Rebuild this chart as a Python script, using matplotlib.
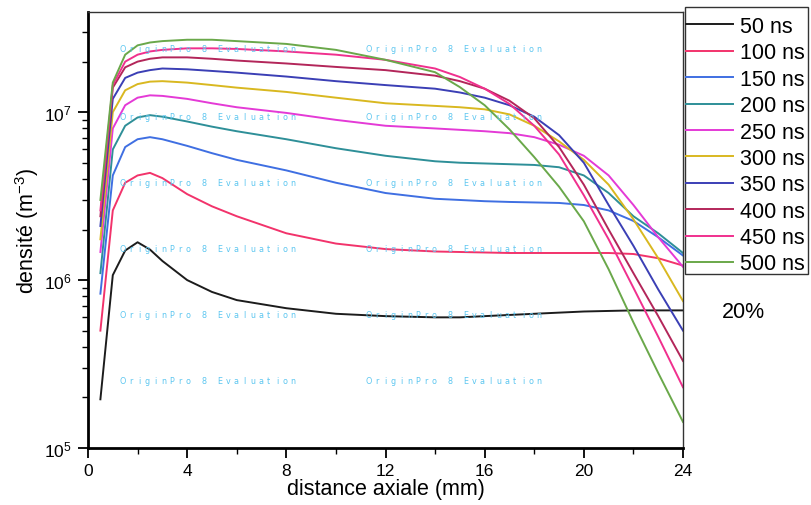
import matplotlib
matplotlib.use("Agg")
import matplotlib.pyplot as plt
from matplotlib.patches import Rectangle
from matplotlib.ticker import FixedLocator, LogLocator, NullFormatter

plt.rcParams['font.family'] = ['Liberation Sans', 'DejaVu Sans']
plt.rcParams['mathtext.fontset'] = 'custom'
plt.rcParams['mathtext.rm'] = 'Liberation Sans'
plt.rcParams['mathtext.it'] = 'Liberation Sans'

# axial positions (mm) where the density was sampled
distance = [0.5, 1.0, 1.5, 2.0, 2.5, 3.0, 4.0, 5.0, 6.0, 8.0, 10.0, 12.0,
            14.0, 15.0, 16.0, 17.0, 18.0, 19.0, 20.0, 21.0, 22.0, 23.0, 24.0]

# density (m^-3) for each delay
n_50 = [1.95e5, 1.07e6, 1.5e6, 1.68e6, 1.52e6, 1.3e6, 1.0e6, 8.5e5, 7.6e5, 6.8e5, 6.3e5, 6.1e5,
        6.0e5, 6.0e5, 6.1e5, 6.2e5, 6.3e5, 6.4e5, 6.5e5, 6.55e5, 6.6e5, 6.6e5, 6.6e5]
n_100 = [5.0e5, 2.6e6, 3.8e6, 4.2e6, 4.35e6, 4.05e6, 3.25e6, 2.75e6, 2.4e6, 1.9e6, 1.65e6, 1.53e6,
         1.48e6, 1.47e6, 1.46e6, 1.45e6, 1.45e6, 1.45e6, 1.45e6, 1.45e6, 1.43e6, 1.35e6, 1.22e6]
n_150 = [8.3e5, 4.2e6, 6.2e6, 6.9e6, 7.1e6, 6.9e6, 6.3e6, 5.7e6, 5.2e6, 4.5e6, 3.8e6, 3.3e6,
         3.05e6, 3.0e6, 2.95e6, 2.92e6, 2.9e6, 2.88e6, 2.8e6, 2.6e6, 2.25e6, 1.8e6, 1.4e6]
n_200 = [1.1e6, 6.0e6, 8.3e6, 9.3e6, 9.6e6, 9.4e6, 8.8e6, 8.2e6, 7.7e6, 6.9e6, 6.1e6, 5.5e6,
         5.1e6, 5.0e6, 4.95e6, 4.9e6, 4.85e6, 4.7e6, 4.2e6, 3.3e6, 2.4e6, 1.9e6, 1.45e6]
n_250 = [1.47e6, 8.0e6, 1.1e7, 1.22e7, 1.26e7, 1.25e7, 1.2e7, 1.13e7, 1.07e7, 9.9e6, 9.0e6, 8.3e6,
         8.0e6, 7.85e6, 7.7e6, 7.5e6, 7.1e6, 6.4e6, 5.5e6, 4.2e6, 2.8e6, 1.8e6, 1.2e6]
n_300 = [1.75e6, 1.0e7, 1.35e7, 1.47e7, 1.52e7, 1.53e7, 1.5e7, 1.45e7, 1.4e7, 1.32e7, 1.22e7, 1.13e7,
         1.09e7, 1.07e7, 1.04e7, 9.7e6, 8.3e6, 6.7e6, 5.2e6, 3.7e6, 2.3e6, 1.35e6, 7.5e5]
n_350 = [2.1e6, 1.2e7, 1.6e7, 1.72e7, 1.78e7, 1.82e7, 1.8e7, 1.76e7, 1.72e7, 1.63e7, 1.53e7, 1.45e7,
         1.38e7, 1.31e7, 1.22e7, 1.1e7, 9.4e6, 7.3e6, 5.0e6, 2.8e6, 1.6e6, 8.8e5, 5.0e5]
n_400 = [2.4e6, 1.4e7, 1.85e7, 2.0e7, 2.08e7, 2.12e7, 2.12e7, 2.08e7, 2.03e7, 1.95e7, 1.86e7, 1.78e7,
         1.65e7, 1.53e7, 1.38e7, 1.17e7, 9.2e6, 6.2e6, 3.7e6, 2.0e6, 1.1e6, 6.1e5, 3.3e5]
n_450 = [2.6e6, 1.45e7, 2.0e7, 2.2e7, 2.3e7, 2.35e7, 2.4e7, 2.4e7, 2.38e7, 2.3e7, 2.2e7, 2.05e7,
         1.82e7, 1.62e7, 1.38e7, 1.12e7, 8.3e6, 5.6e6, 3.2e6, 1.75e6, 9.0e5, 4.6e5, 2.3e5]
n_500 = [3.0e6, 1.5e7, 2.2e7, 2.5e7, 2.6e7, 2.65e7, 2.7e7, 2.7e7, 2.65e7, 2.55e7, 2.35e7, 2.05e7,
         1.73e7, 1.41e7, 1.1e7, 7.9e6, 5.4e6, 3.6e6, 2.24e6, 1.16e6, 5.6e5, 2.8e5, 1.43e5]

labels = ['50 ns', '100 ns', '150 ns', '200 ns', '250 ns',
          '300 ns', '350 ns', '400 ns', '450 ns', '500 ns']
series = [n_50, n_100, n_150, n_200, n_250, n_300, n_350, n_400, n_450, n_500]
colors = ['#1c1c1c', '#f2336b', '#3f6fe2', '#2e8f98', '#e43ad6',
          '#d9b820', '#3b3fb5', '#b3265a', '#f0308e', '#6aa84a']

x_ticks = [0, 4, 8, 12, 16, 20, 24]

fig = plt.figure(figsize=(8.11, 5.06), dpi=100)
ax = fig.add_axes([88 / 811, 57 / 506, 595 / 811, 436 / 506])

# evaluation watermark grid behind the curves, letters on a fixed pitch
mark = 'OriginPro 8 Evaluation'
for col in [123, 369]:
    for row in [50, 117, 183, 250, 316, 382]:
        for i, ch in enumerate(mark):
            fig.text((col + i * 8.1) / 811, 1 - row / 506, ch, fontsize=5.8,
                     color='#5cc6f0', ha='center', va='center',
                     family='DejaVu Sans', zorder=0)

for ys, lab, c in zip(series, labels, colors):
    ax.plot(distance, ys, color=c, lw=1.4, label=lab)

ax.set_yscale('log')
ax.set_xlim(0, 24)
ax.set_ylim(1e5, 3.95e7)
ax.patch.set_alpha(0)

ax.xaxis.set_major_locator(FixedLocator(x_ticks))
ax.xaxis.set_minor_locator(FixedLocator([2, 6, 10, 14, 18, 22]))
ax.yaxis.set_major_locator(LogLocator(base=10, numticks=10))
ax.yaxis.set_minor_locator(LogLocator(base=10, subs=range(2, 10), numticks=20))
ax.yaxis.set_minor_formatter(NullFormatter())

ax.tick_params(axis='both', which='major', direction='out', length=7, width=1.3,
               labelsize=12.5)
ax.tick_params(axis='x', which='major', pad=4)
ax.tick_params(axis='y', which='major', pad=5)
ax.tick_params(axis='both', which='minor', direction='out', length=4, width=1.0)
ax.tick_params(axis='x', which='both', top=False)
ax.tick_params(axis='y', which='both', right=False)

for side in ['left', 'bottom']:
    ax.spines[side].set_linewidth(2.0)
for side in ['top', 'right']:
    ax.spines[side].set_linewidth(1.0)
    ax.spines[side].set_color('#333333')

ax.set_xlabel('distance axiale (mm)', fontsize=15.5, labelpad=0)
ax.set_ylabel('densité (m$^{\\mathrm{-3}}$)', fontsize=15.5, labelpad=2)

# legend entries without their own frame; the box is drawn separately
leg = fig.legend(loc='upper left', bbox_to_anchor=(686 / 811, 1 - 17 / 506),
                 fontsize=15.5, frameon=False, borderaxespad=0, borderpad=0,
                 handlelength=2.2, handletextpad=0.33, labelspacing=0.25)
for h in leg.get_lines():
    h.set_linewidth(1.4)
fig.patches.append(Rectangle((685 / 811, 1 - 275 / 506), 123 / 811, 267 / 506,
                             transform=fig.transFigure, fill=True,
                             facecolor='white', edgecolor='#333333', lw=1.0,
                             zorder=2))
leg.set_zorder(3)

fig.text(743 / 811, 1 - 313 / 506, '20%', fontsize=15.5, ha='center', va='center')

fig.savefig('out.png', dpi=100)
